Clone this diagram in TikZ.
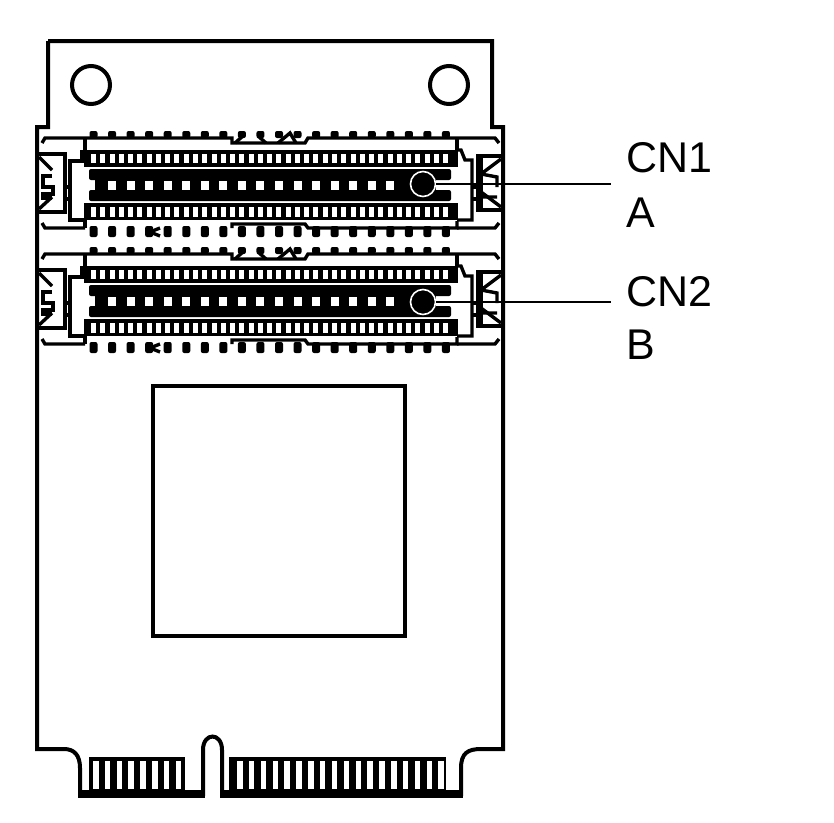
\documentclass[tikz,border=0pt]{standalone}
\usepackage{fontspec}
\setmainfont{Liberation Sans}
\usepackage{tikz}

\begin{document}
\begin{tikzpicture}
[x=1pt,y=-1pt,line width=3pt,line join=miter,
outline/.style={draw=black,line width=4pt},
thin line/.style={draw=black,line width=3.4pt},
pad/.style={fill=black,rounded corners=2pt},
slot/.style={fill=white},
callout/.style={inner sep=0pt,font=\fontsize{43}{43}\selectfont,anchor=west},
dot/.style={circle,fill=black,draw=white,line width=1.6pt,minimum size=25pt,inner sep=0pt}]
\useasboundingbox (0,0) rectangle (834,822);
% board
\draw[outline] (48,41) -- (492,41) -- (492,127) -- (503,127) -- (503,749) -- (481,749)
  .. controls (468,749) and (461,753) .. (461,768) -- (461,796);
\draw[outline] (48,41) -- (48,127) -- (37,127) -- (37,749) -- (64,749)
  .. controls (74,749) and (80,755) .. (80,768) -- (80,796);
\draw[outline] (203,796) -- (203,750) .. controls (203,732) and (222,732) .. (222,750) -- (222,796);
\draw[outline] (91,85) circle (19);
\draw[outline] (449,85) circle (19);
\draw[outline] (153,386) rectangle (405,636);
% gold fingers
\fill (78,790) rectangle (205,798);
\fill (220,790) rectangle (463,798);
\fill (89,757) rectangle (185,790);
\fill (229,757) rectangle (446,790);
\foreach \x in {0,...,7}
\fill[slot] (93+11.8*\x,761) rectangle (98.5+11.8*\x,789);
\foreach \x in {0,...,17}
\fill[slot] (237+11.85*\x,761) rectangle (242.5+11.85*\x,789);
% connectors
\foreach \off in {0,116}
{
\begin{scope}[shift={(0,\off)}]
\draw[thin line] (42,143) -- (45,138) -- (232,138) -- (232,143) -- (305,143) -- (308,138) -- (495,138) -- (499,143);
\draw[thin line] (42,223) -- (45,228) -- (85,228);
\draw[thin line] (232,228) -- (232,224) -- (305,224) -- (308,228) -- (457,228) -- (457,221);
\draw[thin line] (457,228) -- (495,228) -- (499,223);
\draw[thin line] (85,138) -- (85,150) (85,220) -- (85,228);
\draw[thin line] (457,138) -- (457,150);
% top and bottom pads
\foreach \x in {0,...,19}
{
\path[pad] (89.5+18.55*\x,131) rectangle (97.5+18.55*\x,138);
\path[pad] (89.5+18.55*\x,226) rectangle (97.5+18.55*\x,237);
}
\draw[thin line] (235,143) -- (244,135) (258,136) -- (266,143) (278,143) -- (290,133) -- (296,143);
\draw[thin line] (150,232) -- (160,228) (150,232) -- (160,236);
% slot rows
\fill (84,150) rectangle (458,167);
\fill (84,203) rectangle (458,220);
\foreach \x in {0,...,38}
{
\fill[slot] (91+9.27*\x,154) rectangle (96+9.27*\x,163);
\fill[slot] (91+9.27*\x,207) rectangle (96+9.27*\x,217);
}
% contact strip
\path[pad] (89,169) rectangle (451,180);
\path[pad] (89,190) rectangle (451,201);
\fill (95,179) rectangle (436,191);
\foreach \x in {0,...,15}
\fill[slot] (108+18.55*\x,180.5) rectangle (116+18.55*\x,189.5);
% latches
\draw[thin line] (85,152) -- (82,152) -- (82,161) -- (70,161) -- (70,220) -- (85,220);
\draw[thin line] (457,150) -- (461,150) -- (465,160) -- (472,160) -- (472,220) -- (457,220);
\draw[thin line] (38,154) -- (65,154) -- (65,212) -- (38,212);
\draw[thin line] (39,157) -- (52,170) (39,209) -- (52,197);
\draw[thin line] (52,176) -- (43,176) -- (43,187) -- (53,187) -- (53,194) -- (43,194) -- (43,198) -- (52,198);
\draw[thin line] (65,187) -- (70,187) (65,199) -- (70,199);
\draw[thin line] (502,156) -- (478,156) -- (478,210) -- (502,210);
\fill (477,156) rectangle (483,210);
\draw[thin line] (501,159) -- (481,174) (501,207) -- (481,192);
\draw[thin line] (481,174) -- (497,177) -- (497,187) (497,197) -- (481,197);
\draw[thin line] (472,187) -- (477,187) (472,199) -- (477,199);
\end{scope}
}
% labels
\node[dot] (dotA) at (423,184) {};
\node[dot] (dotB) at (423,302) {};
\coordinate (leadA) at (611,184);
\coordinate (leadB) at (611,302);
\foreach \from/\to in {dotA/leadA,dotB/leadB}
\draw[thin line,line width=2.8pt] (\from) -- (\to);
\node[callout] (cnA) at (625,158) {CN1};
\node[callout] (slotA) at (625,213) {A};
\node[callout] (cnB) at (625,292) {CN2};
\node[callout] (slotB) at (625,345) {B};
\end{tikzpicture}
\end{document}
